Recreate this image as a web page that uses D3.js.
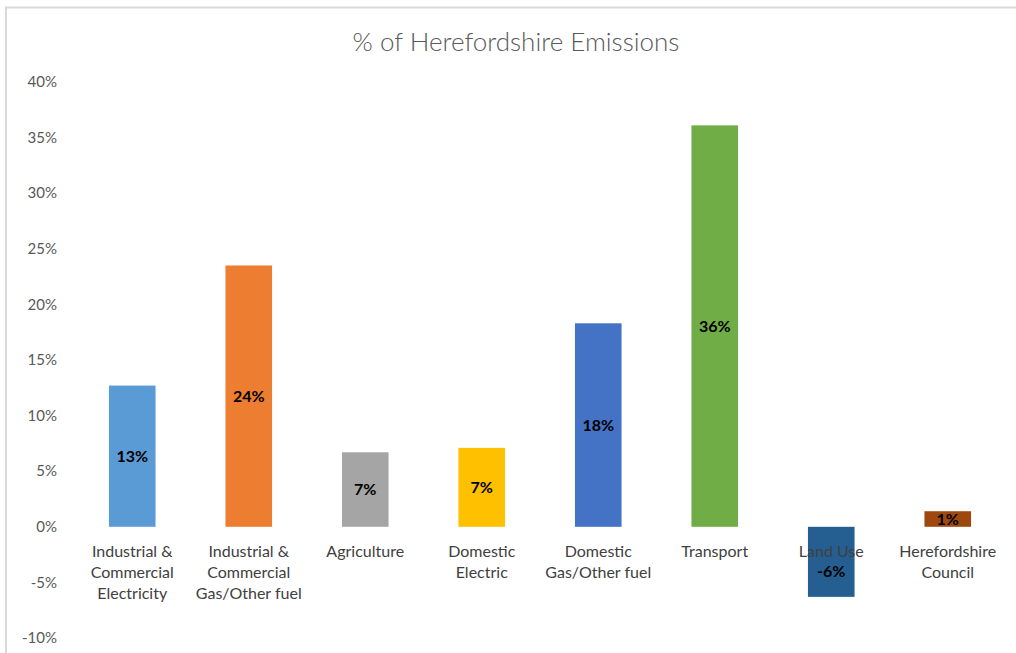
<!DOCTYPE html>
<html>
<head>
  <meta charset="utf-8">
  <title>% of Herefordshire Emissions</title>
  <script src="https://d3js.org/d3.v7.min.js"></script>
  <style>
    body { margin: 0; background: #fff; }
    svg { font-family: Lato, "Open Sans", sans-serif; }
    .tick-label { fill: #595959; font-size: 15px; }
    .cat-label { fill: #404040; font-size: 16px; }
    .val-label { fill: #000; font-size: 16px; font-weight: bold; }
    .title { fill: #595959; font-size: 26px; font-weight: 300; }
  </style>
</head>
<body>
<div id="chart"></div>
<script>

const width = 1016;
const height = 653;

const categories = [
  ["Industrial &", "Commercial", "Electricity"],
  ["Industrial &", "Commercial", "Gas/Other fuel"],
  ["Agriculture"],
  ["Domestic", "Electric"],
  ["Domestic", "Gas/Other fuel"],
  ["Transport"],
  ["Land Use"],
  ["Herefordshire", "Council"]
];
const values = [12.7, 23.5, 6.7, 7.1, 18.3, 36.1, -6.3, 1.4];
const colors = ["#5B9BD5", "#ED7D31", "#A5A5A5", "#FFC000", "#4472C4", "#70AD47", "#255E91", "#9E480E"];
const ticks = [-10, -5, 0, 5, 10, 15, 20, 25, 30, 35, 40];

const svg = d3.select("#chart").append("svg")
    .attr("width", width)
    .attr("height", height);

// chart frame
svg.append("path")
    .attr("d", "M6,653 V7.5 H1016")
    .attr("fill", "none")
    .attr("stroke", "#d9d9d9")
    .attr("stroke-width", 2);

svg.append("text")
    .attr("class", "title")
    .attr("x", 516)
    .attr("y", 51)
    .attr("text-anchor", "middle")
    .text("% of Herefordshire Emissions");

const idx = d3.range(values.length);

const x = d3.scaleBand()
    .domain(idx)
    .range([74, 1006]);

const y = d3.scaleLinear()
    .domain([-10, 40])
    .range([638, 82]);

const barW = x.bandwidth() * 0.4;

// y tick labels (no axis line, no gridlines)
svg.append("g")
  .selectAll("text")
  .data(ticks)
  .join("text")
    .attr("class", "tick-label")
    .attr("x", 57)
    .attr("y", d => y(d))
    .attr("dy", "0.35em")
    .attr("text-anchor", "end")
    .text(d => d + "%");

// bars
svg.append("g")
  .selectAll("rect")
  .data(idx)
  .join("rect")
    .attr("x", i => x(i) + (x.bandwidth() - barW) / 2)
    .attr("y", i => y(Math.max(0, values[i])))
    .attr("width", barW)
    .attr("height", i => Math.abs(y(values[i]) - y(0)))
    .attr("fill", i => colors[i]);

// category labels
const cat = svg.append("g")
  .selectAll("text")
  .data(idx)
  .join("text")
    .attr("class", "cat-label")
    .attr("text-anchor", "middle")
    .attr("x", i => x(i) + x.bandwidth() / 2)
    .attr("y", 557);

cat.selectAll("tspan")
  .data(i => categories[i].map(t => [i, t]))
  .join("tspan")
    .attr("x", d => x(d[0]) + x.bandwidth() / 2)
    .attr("dy", (d, j) => j === 0 ? 0 : 21)
    .text(d => d[1]);

// value labels
svg.append("g")
  .selectAll("text")
  .data(idx)
  .join("text")
    .attr("class", "val-label")
    .attr("text-anchor", "middle")
    .attr("x", i => x(i) + x.bandwidth() / 2)
    .attr("y", i => values[i] < 0 ? y(0) + 45 : (y(values[i]) + y(0)) / 2)
    .attr("dy", "0.35em")
    .text(i => Math.round(values[i]) + "%");

</script>
</body>
</html>
